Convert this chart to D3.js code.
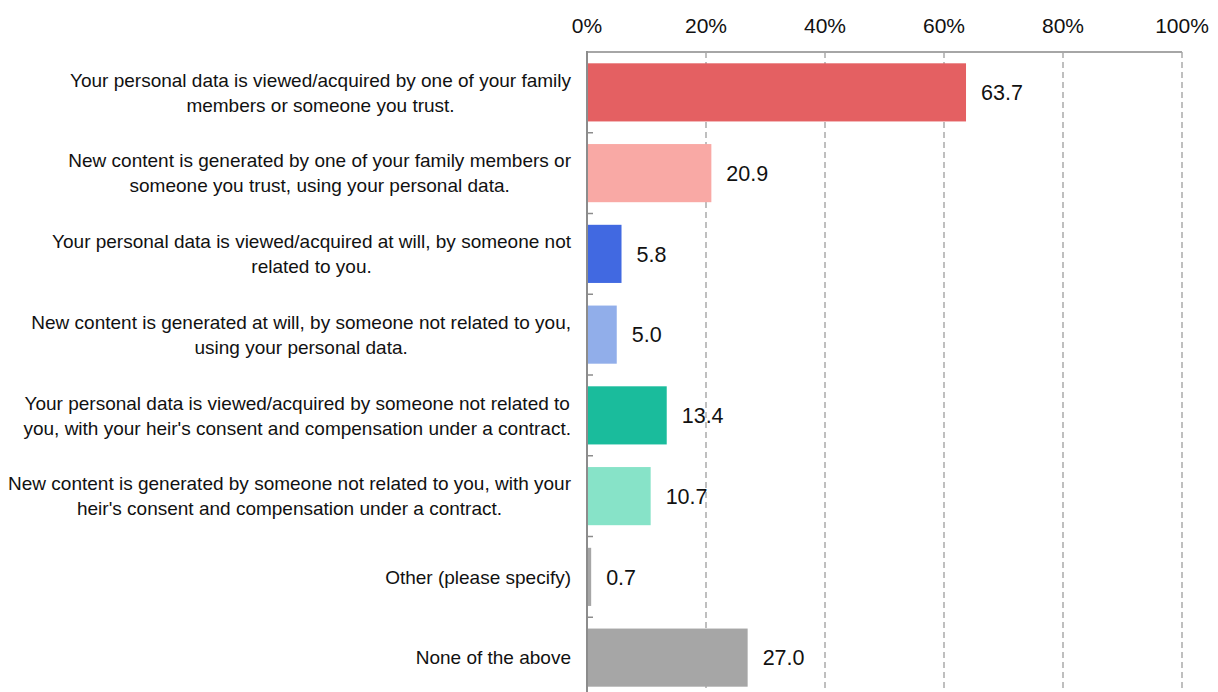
<!DOCTYPE html>
<html>
<head>
<meta charset="utf-8">
<script src="https://cdn.jsdelivr.net/npm/d3@7"></script>
<style>
  html, body { margin: 0; padding: 0; background: #fff; }
  svg { display: block; font-family: "Liberation Sans", Arial, Helvetica, sans-serif; }
</style>
</head>
<body>
<svg id="chart" width="1218" height="692"></svg>
<script>
const categories = [
  "Your personal data is viewed/acquired by one of your family\nmembers or someone you trust.",
  "New content is generated by one of your family members or\nsomeone you trust, using your personal data.",
  "Your personal data is viewed/acquired at will, by someone not\nrelated to you.",
  "New content is generated at will, by someone not related to you,\nusing your personal data.",
  "Your personal data is viewed/acquired by someone not related to\nyou, with your heir's consent and compensation under a contract.",
  "New content is generated by someone not related to you, with your\nheir's consent and compensation under a contract.",
  "Other (please specify)",
  "None of the above"
];
const values = [63.7, 20.9, 5.8, 5.0, 13.4, 10.7, 0.7, 27.0];
const barColors = ["#E46062", "#F9A9A5", "#4169E1", "#91AEEA", "#1ABC9C", "#87E3C8", "#A6A6A6", "#A6A6A6"];
const tickValues = [0, 20, 40, 60, 80, 100];
const tickLabels = ["0%", "20%", "40%", "60%", "80%", "100%"];

const svg = d3.select("#chart");
const plotLeft = 587, plotRight = 1182, plotTop = 52, plotBottom = 698;

const x = d3.scaleLinear().domain([0, 100]).range([plotLeft, plotRight]);
const y = d3.scaleBand().domain(categories).range([plotTop, plotBottom])
  .paddingInner(0.28).paddingOuter(0.14);

const gap = (y.step() - y.bandwidth()) / 2;

// gridlines
svg.append("g").selectAll("line").data(tickValues.filter(d => d > 0)).join("line")
  .attr("x1", d => x(d)).attr("x2", d => x(d))
  .attr("y1", plotTop).attr("y2", plotBottom)
  .attr("stroke", "#ababab").attr("stroke-width", 1.5)
  .attr("stroke-dasharray", "6,4");

// top border line
svg.append("line").attr("x1", x(0)).attr("x2", x(100)).attr("y1", plotTop).attr("y2", plotTop)
  .attr("stroke", "#a6a6a6").attr("stroke-width", 2);

// bars
svg.append("g").selectAll("rect").data(values).join("rect")
  .attr("x", x(0))
  .attr("y", (d, i) => y(categories[i]))
  .attr("width", d => x(d) - x(0))
  .attr("height", y.bandwidth())
  .attr("fill", (d, i) => barColors[i]);

// y axis line
svg.append("line").attr("x1", x(0)).attr("x2", x(0)).attr("y1", plotTop - 1).attr("y2", plotBottom)
  .attr("stroke", "#8c8c8c").attr("stroke-width", 2);

// y ticks at band boundaries
svg.append("g").selectAll("line").data(categories.slice(1)).join("line")
  .attr("x1", x(0)).attr("x2", x(0) + 6)
  .attr("y1", d => y(d) - gap).attr("y2", d => y(d) - gap)
  .attr("stroke", "#8c8c8c").attr("stroke-width", 1.5);

// x tick labels
svg.append("g").selectAll("text").data(tickValues).join("text")
  .attr("x", d => x(d)).attr("y", 33)
  .attr("text-anchor", "middle")
  .attr("font-size", 21).attr("fill", "#111")
  .text((d, i) => tickLabels[i]);

// value labels
svg.append("g").selectAll("text").data(values).join("text")
  .attr("x", d => x(d) + 15)
  .attr("y", (d, i) => y(categories[i]) + y.bandwidth() / 2)
  .attr("dy", "0.36em")
  .attr("font-size", 21.5).attr("fill", "#111")
  .text(d => d.toFixed(1));

// category labels (block right-aligned, lines centered)
const labelRight = 571;
const lineH = 25;
categories.forEach((c, i) => {
  const lines = c.split("\n");
  const cy = y(c) + y.bandwidth() / 2;
  const g = svg.append("g");
  const texts = lines.map((ln, j) => g.append("text")
    .attr("y", cy + (j - (lines.length - 1) / 2) * lineH)
    .attr("dy", "0.35em")
    .attr("font-size", 19).attr("fill", "#111")
    .attr("text-anchor", "middle")
    .text(ln));
  const w = d3.max(texts, t => t.node().getComputedTextLength());
  texts.forEach(t => t.attr("x", labelRight - w / 2));
});
</script>
</body>
</html>
